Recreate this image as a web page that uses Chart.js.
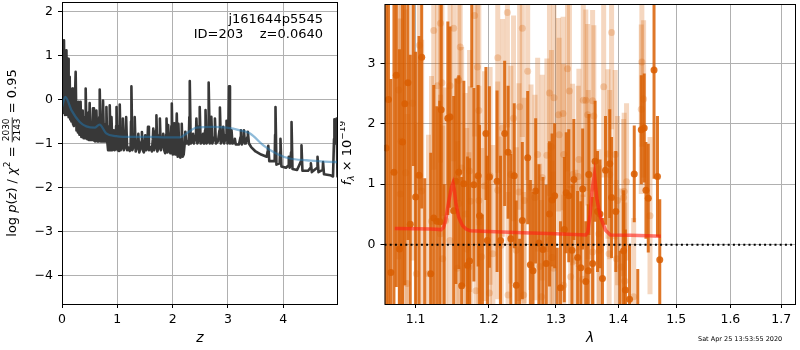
<!DOCTYPE html>
<html>
<head>
<meta charset="utf-8">
<script src="https://cdn.jsdelivr.net/npm/chart.js@4.4.1/dist/chart.umd.min.js"></script>
<style>
  body { margin: 0; background: #fff; }
  #wrap { position: relative; width: 800px; height: 350px; }
  canvas { position: absolute; top: 0; }
</style>
</head>
<body>
<div id="wrap">
  <canvas id="pz" width="345" height="350" style="left:0"></canvas>
  <canvas id="spec" width="460" height="350" style="left:340px"></canvas>
</div>
<script>
// p(z) panel
const objName = 'j161644p5545';
const idLine = 'ID=203    z=0.0640';
const chiNum = '2030', chiDen = '2143', chiRed = '0.95';
const zTicks = [0, 1, 2, 3, 4];
const pzTicks = [-4, -3, -2, -1, 0, 1, 2];

const zGrid = [
  0.000,0.015,0.028,0.036,0.046,0.054,0.062,0.070,0.080,0.092,
  0.100,0.109,0.120,0.130,0.139,0.150,0.160,0.170,0.178,0.187,
  0.198,0.215,0.232,0.247,0.262,0.275,0.288,0.300,0.315,0.325,
  0.336,0.350,0.362,0.374,0.390,0.410,0.420,0.428,0.444,0.458,
  0.471,0.486,0.500,0.515,0.530,0.545,0.561,0.578,0.600,0.622,
  0.640,0.662,0.674,0.682,0.700,0.725,0.735,0.742,0.760,0.785,
  0.796,0.803,0.818,0.833,0.848,0.856,0.863,0.880,0.888,0.895,
  0.912,0.928,0.937,0.952,0.970,0.978,0.986,1.005,1.020,1.030,
  1.037,1.044,1.062,1.080,1.092,1.100,1.118,1.135,1.152,1.160,
  1.178,1.200,1.225,1.240,1.248,1.255,1.272,1.290,1.307,1.315,
  1.332,1.355,1.372,1.380,1.397,1.420,1.437,1.445,1.462,1.480,
  1.497,1.505,1.522,1.540,1.548,1.555,1.572,1.600,1.625,1.642,
  1.650,1.667,1.685,1.700,1.707,1.724,1.745,1.762,1.770,1.787,
  1.822,1.830,1.847,1.865,1.882,1.890,1.905,1.920,1.937,1.960,
  1.977,1.985,2.002,2.022,2.030,2.047,2.060,2.075,2.092,2.105,
  2.122,2.140,2.157,2.165,2.182,2.200,2.222,2.230,2.247,2.270,
  2.290,2.302,2.310,2.327,2.362,2.370,2.387,2.422,2.430,2.447,
  2.470,2.482,2.490,2.507,2.542,2.550,2.567,2.587,2.595,2.612,
  2.640,2.648,2.655,2.672,2.692,2.700,2.717,2.757,2.765,2.782,
  2.820,2.847,2.855,2.872,2.907,2.915,2.932,2.967,2.975,2.992,
  3.012,3.020,3.037,3.058,3.065,3.082,3.118,3.125,3.142,3.200,
  3.228,3.235,3.252,3.282,3.290,3.307,3.320,3.352,3.360,3.380,
  3.420,3.500,3.600,3.700,3.722,3.730,3.748,3.800,3.845,3.853,
  3.860,3.877,3.935,3.943,3.950,3.967,4.050,4.093,4.100,4.117,
  4.142,4.150,4.167,4.250,4.322,4.330,4.347,4.450,4.493,4.500,
  4.517,4.613,4.620,4.637,4.713,4.720,4.737,4.850,4.900,4.918,
  4.925,4.940,4.958,4.965,4.980,4.990
];
const logPz = [
  -0.30,-0.25,0.40,1.35,-0.20,-0.35,0.45,-0.30,1.12,-0.35,
  -0.20,0.93,-0.40,0.00,0.52,-0.45,0.06,-0.50,-0.45,0.25,
  -0.55,-0.60,-0.10,0.63,-0.70,-0.15,-0.75,-0.05,-0.80,-0.80,
  -0.05,-0.85,-0.85,-0.25,-0.88,-0.88,-0.40,0.25,-0.88,-0.90,
  -0.30,-0.92,-0.08,-0.92,-0.60,-0.92,-0.20,-0.93,-0.95,-0.25,
  -0.95,-0.95,-0.40,0.23,-0.95,-0.95,-0.50,-0.02,-0.95,-0.95,
  -0.55,-0.17,-0.95,-1.15,-1.12,-0.60,-0.13,-1.15,-0.80,-0.40,
  -1.15,-1.00,-0.70,-1.15,-1.10,-0.60,-0.17,-1.15,-1.08,-1.17,
  -0.60,-0.11,-1.15,-1.08,-0.80,-0.43,-1.15,-1.09,-0.80,-0.40,
  -1.15,-1.09,-1.17,-1.10,-0.50,0.30,-1.15,-1.08,-0.80,-0.40,
  -1.18,-1.10,-0.95,-0.78,-1.20,-1.10,-0.95,-0.74,-1.15,-1.20,
  -1.00,-0.81,-1.15,-1.05,-0.85,-0.62,-1.15,-1.08,-1.18,-0.90,
  -0.66,-1.15,-1.08,-0.70,-0.36,-1.18,-1.10,-0.80,-0.43,-1.15,
  -0.95,-0.78,-1.15,-1.22,-0.80,-0.43,-1.20,-0.58,-1.15,-1.22,
  -0.60,-0.09,-1.25,-0.90,-0.54,-1.25,-1.15,-0.32,-1.30,-0.55,
  -1.25,-1.32,-0.90,-0.55,-1.30,-1.25,-0.95,-0.73,-1.00,-0.95,
  -1.02,-0.40,0.42,-1.00,-0.95,-0.78,-1.00,-0.80,-0.43,-1.00,
  -0.93,-0.60,-0.17,-1.00,-0.95,-0.78,-1.00,-0.70,-0.24,-1.00,
  -0.95,-0.40,0.39,-1.00,-0.80,-0.39,-1.00,-0.85,-0.43,-1.00,
  -0.95,-0.70,-0.18,-1.00,-0.90,-0.62,-1.00,-0.80,-0.48,-1.00,
  -0.40,0.30,-1.00,-0.90,-0.70,-1.00,-0.98,-0.89,-1.02,-1.02,
  -0.85,-0.70,-1.02,-0.85,-0.70,-1.00,-1.00,-0.85,-0.73,-1.00,
  -1.08,-1.18,-1.25,-1.30,-1.15,-1.05,-1.40,-1.40,-1.40,-0.80,
  -0.17,-1.48,-1.45,-1.20,-0.89,-1.52,-1.55,-1.50,-1.30,-1.55,
  -1.20,-0.51,-1.58,-1.60,-1.40,-1.04,-1.62,-1.62,-1.55,-1.45,
  -1.65,-1.55,-1.30,-1.65,-1.60,-1.42,-1.70,-1.72,-1.75,-0.90,
  -0.45,-1.00,-0.90,-0.43,-1.75,-1.75
];
const zSmooth = [0,0.06,0.17,0.32,0.44,0.59,0.68,0.80,0.98,1.29,1.59,1.89,2.13,2.25,2.43,2.73,2.98,3.22,3.40,3.64,3.88,4.12,4.42,4.91,4.99];
const logPzSmooth = [-0.17,0.06,-0.24,-0.51,-0.61,-0.64,-0.57,-0.77,-0.83,-0.85,-0.85,-0.86,-0.86,-0.77,-0.64,-0.62,-0.64,-0.70,-0.77,-1.04,-1.23,-1.34,-1.38,-1.42,-1.42];

// spectrum panel
const lamTicks = [1.1, 1.2, 1.3, 1.4, 1.5, 1.6, 1.7];
const fluxTicks = [0, 1, 2, 3];
const stamp = 'Sat Apr 25 13:53:55 2020';

const waveDark = [
  1.062,1.065,1.068,1.072,1.075,1.079,1.083,1.086,1.090,1.093,
  1.097,1.100,1.1045,1.108,1.112,1.120,1.124,1.128,1.132,1.134,
  1.138,1.143,1.146,1.151,1.154,1.158,1.162,1.165,1.170,1.173,
  1.176,1.179,1.185,1.187,1.191,1.196,1.198,1.201,1.212,1.217,
  1.223,1.228,1.232,1.237,1.240,1.245,1.249,1.257,1.261,1.265,
  1.269,1.274,1.280,1.285,1.290,1.294,1.298,1.302,1.307,1.313,
  1.316,1.320,1.325,1.328,1.334,1.339,1.342,1.347,1.351,1.352,
  1.358,1.362,1.366,1.370,1.374,1.379,1.386,1.389,1.396,1.403,
  1.409,1.412,1.419,1.427,1.433,1.439,1.444,1.447,1.451,1.461,
  1.467,1.471
];
const fluxDark = [
  1.60,2.40,-0.46,1.20,2.80,-0.07,1.70,2.33,2.68,0.34,
  4.30,0.79,1.15,3.10,-1.10,-0.48,0.44,0.39,0.38,2.23,
  -1.20,2.09,2.11,0.56,1.05,1.20,-0.68,1.01,-0.34,-0.27,
  4.30,0.99,1.14,0.48,-1.10,1.84,0.07,1.12,1.05,0.07,
  1.84,1.53,0.10,1.14,-0.67,-1.10,0.40,1.44,-0.33,-0.43,
  0.89,0.03,-0.08,-0.31,0.51,0.74,0.81,-1.05,-0.71,0.25,
  0.86,0.81,-0.09,1.08,-0.21,-0.38,0.92,-0.61,-0.43,1.16,
  -0.31,1.38,0.55,0.51,-0.56,1.23,1.34,0.78,0.55,-1.10,
  -0.10,-0.75,-0.90,1.17,-1.20,1.90,1.93,0.90,0.77,2.89,
  1.13,-0.25
];
const errDark = [
  4.0,4.0,3.2,3.6,3.5,3.3,3.2,3.0,2.6,2.8,
  3.0,2.4,2.3,2.5,2.2,2.0,2.2,1.9,2.0,1.9,
  2.2,1.6,1.5,1.9,1.7,1.6,1.8,1.7,1.8,1.7,
  1.7,1.6,1.5,1.5,1.6,1.1,1.4,1.5,1.5,1.4,
  1.2,1.1,1.4,1.2,1.4,1.2,1.3,1.1,1.4,1.3,
  1.2,1.3,1.2,1.3,1.2,1.1,1.2,1.0,1.1,1.2,
  1.0,1.1,1.1,1.0,1.1,1.1,1.0,1.0,1.1,1.0,
  1.1,1.0,1.0,0.9,1.0,0.9,0.9,1.0,1.0,1.0,
  1.0,1.0,0.9,0.8,0.8,0.9,0.9,0.8,0.9,1.8,
  1.0,1.0
];

const waveLight = [
  1.078,1.080,1.081,1.087,1.089,1.096,1.101,1.105,1.108,1.117,
  1.121,1.124,1.129,1.133,1.133,1.135,1.136,1.140,1.146,1.146,
  1.151,1.156,1.158,1.158,1.160,1.162,1.167,1.169,1.172,1.173,
  1.174,1.180,1.182,1.184,1.186,1.186,1.190,1.194,1.201,1.202,
  1.206,1.213,1.213,1.218,1.220,1.227,1.228,1.232,1.236,1.240,
  1.244,1.245,1.249,1.251,1.252,1.257,1.262,1.268,1.272,1.275,
  1.278,1.279,1.286,1.290,1.290,1.293,1.294,1.296,1.297,1.304,
  1.305,1.311,1.312,1.312,1.318,1.321,1.323,1.326,1.331,1.335,
  1.336,1.342,1.343,1.347,1.350,1.351,1.358,1.358,1.360,1.368,
  1.369,1.376,1.383,1.385,1.386,1.389,1.395,1.397,1.399,1.405,
  1.409,1.410,1.411,1.414,1.426,1.439,1.440,1.443,1.454
];
const fluxLight = [
  2.56,0.84,1.71,1.19,-0.64,2.34,-0.48,3.30,0.89,-0.48,
  0.39,3.54,2.63,3.66,0.18,2.68,-0.23,0.40,2.63,0.07,
  3.58,-0.39,2.72,0.68,3.27,1.27,0.51,-0.07,-0.37,1.22,
  0.72,3.79,-0.76,2.94,2.22,0.73,-0.20,0.97,-0.80,1.14,
  -0.15,3.09,0.90,-0.01,1.93,3.84,-0.83,1.16,2.09,-0.09,
  0.87,2.28,3.58,-0.83,0.73,2.87,0.95,0.78,1.49,-0.36,
  -0.86,1.11,1.48,0.08,2.51,1.62,-0.21,-0.39,2.43,2.15,
  1.82,2.17,1.49,-0.67,2.91,2.54,-0.53,1.16,-0.26,1.13,
  1.41,-0.57,2.39,2.39,2.15,1.16,2.38,-0.12,2.13,0.18,
  -0.09,2.61,1.50,-0.15,1.16,3.51,1.49,-0.23,0.73,-0.37,
  0.78,0.88,-0.60,1.04,-0.86,2.24,3.02,2.41,0.48
];
const errLight = [
  2.8,2.9,2.8,2.7,2.8,2.6,2.5,2.4,2.5,2.3,
  2.4,2.3,2.2,2.3,2.3,2.2,2.2,2.2,2.1,2.1,
  2.2,2.1,2.0,2.1,2.1,2.0,2.0,2.0,1.9,2.0,
  1.9,2.0,1.9,1.9,1.9,1.9,1.8,1.9,1.8,1.8,
  1.8,1.9,1.8,1.8,1.8,1.9,1.7,1.8,1.7,1.7,
  1.8,1.7,1.8,1.7,1.7,1.8,1.7,1.7,1.6,1.7,
  1.6,1.7,1.6,1.6,1.7,1.6,1.6,1.6,1.7,1.6,
  1.6,1.6,1.5,1.5,1.7,1.6,1.5,1.5,1.5,1.5,
  1.5,1.4,1.6,1.5,1.5,1.4,1.5,1.4,1.5,1.4,
  1.4,1.5,1.4,1.4,1.4,1.6,1.4,1.3,1.4,1.3,
  1.3,1.3,1.3,1.3,1.3,1.4,1.4,1.3,1.3
];

const waveModel = [1.073,1.100,1.120,1.134,1.137,1.140,1.144,1.148,1.150,1.152,1.154,1.158,1.163,1.168,1.174,1.200,1.250,1.300,1.347,1.350,1.354,1.357,1.361,1.365,1.371,1.379,1.387,1.420,1.450,1.473];
const fluxModel = [0.27,0.265,0.26,0.25,0.28,0.40,0.70,0.95,1.02,0.90,0.68,0.45,0.32,0.26,0.23,0.22,0.20,0.18,0.16,0.20,0.50,0.89,1.16,0.75,0.45,0.24,0.16,0.155,0.15,0.14];
const zeroLevel = 0;

const FONT = 'DejaVu Sans';
const tickFont = { family: FONT, size: 12.5 };

function minus(v) {
  return v < 0 ? '\u2212' + Math.abs(v) : String(v);
}

function fixAxis(w, h) {
  return s => {
    if (w != null) s.width = w;
    if (h != null) s.height = h;
    s.paddingTop = 0; s.paddingBottom = 0; s.paddingLeft = 0; s.paddingRight = 0;
  };
}

// draws text runs one after another, rotated by -90 deg
function drawRuns(ctx, cx, cy, runs) {
  ctx.save();
  ctx.translate(cx, cy);
  ctx.rotate(-Math.PI / 2);
  ctx.textBaseline = 'middle';
  ctx.textAlign = 'left';
  let total = 0;
  runs.forEach(r => {
    ctx.font = r.font;
    if (r.frac) {
      r.w = Math.max(ctx.measureText(r.num).width, ctx.measureText(r.den).width) + 2;
    } else {
      r.w = ctx.measureText(r.text).width;
    }
    total += r.w;
  });
  let x = -total / 2;
  runs.forEach(r => {
    ctx.font = r.font;
    if (r.frac) {
      ctx.textAlign = 'center';
      ctx.fillText(r.num, x + r.w / 2, -6);
      ctx.fillText(r.den, x + r.w / 2, 5);
      ctx.textAlign = 'left';
      ctx.fillRect(x, -1.2, r.w, 0.8);
    } else {
      ctx.fillText(r.text, x, r.dy || 0);
    }
    x += r.w;
  });
  ctx.restore();
}

const pzDecor = {
  id: 'pzDecor',
  afterDraw(chart) {
    const { ctx, chartArea: a } = chart;
    ctx.save();
    ctx.strokeStyle = '#000';
    ctx.lineWidth = 1;
    ctx.strokeRect(a.left + 0.5, a.top + 0.5, a.right - a.left - 1, a.bottom - a.top);
    ctx.fillStyle = '#000';
    ctx.font = '13px ' + FONT;
    ctx.textAlign = 'right';
    ctx.textBaseline = 'middle';
    ctx.fillText(objName, 323, 20);
    ctx.fillText(idLine, 323, 35);
    const n = '13px ' + FONT, it = 'italic 13px ' + FONT;
    drawRuns(ctx, 13, 153, [
      { text: 'log ', font: n },
      { text: 'p', font: it },
      { text: '(', font: n },
      { text: 'z', font: it },
      { text: ') / ', font: n },
      { text: '\u03c7', font: it },
      { text: '2', font: '9px ' + FONT, dy: -5 },
      { text: ' = ', font: n },
      { frac: true, num: chiNum, den: chiDen, font: '9px ' + FONT },
      { text: ' = ' + chiRed, font: n }
    ]);
    ctx.restore();
  }
};

new Chart(document.getElementById('pz'), {
  type: 'scatter',
  data: {
    datasets: [
      {
        data: zGrid.map((z, i) => ({ x: z, y: logPz[i] })),
        showLine: true, borderColor: '#383838', borderWidth: 2.6,
        borderJoinStyle: 'round', pointRadius: 0, order: 2
      },
      {
        data: zSmooth.map((z, i) => ({ x: z, y: logPzSmooth[i] })),
        showLine: true, borderColor: 'rgba(31,119,180,0.5)', borderWidth: 2.3,
        pointRadius: 0, cubicInterpolationMode: 'monotone', order: 1
      }
    ]
  },
  options: {
    responsive: false, animation: false,
    layout: { padding: { top: 2, right: 7, left: 0, bottom: 0 } },
    plugins: { legend: { display: false }, tooltip: { enabled: false } },
    scales: {
      x: {
        type: 'linear', min: 0, max: 4.99,
        afterBuildTicks: s => { s.ticks = zTicks.map(v => ({ value: v })); },
        afterFit: fixAxis(null, 46),
        ticks: { font: tickFont, color: '#000', padding: 4, maxRotation: 0, callback: v => minus(v) },
        grid: { color: '#b0b0b0', tickColor: '#000', tickLength: 4 },
        border: { display: false },
        title: { display: true, text: 'z', color: '#000', font: { family: FONT, size: 14, style: 'italic' }, padding: { top: 0, bottom: 3 } }
      },
      y: {
        min: -4.65, max: 2.22,
        afterBuildTicks: s => { s.ticks = pzTicks.map(v => ({ value: v })); },
        afterFit: fixAxis(62, null),
        ticks: { font: tickFont, color: '#000', padding: 5, callback: v => minus(v) },
        grid: { color: '#b0b0b0', tickColor: '#000', tickLength: 4 },
        border: { display: false }
      }
    }
  },
  plugins: [pzDecor]
});

function drawErrs(ctx, xs, ys, wave, flux, err, color, width) {
  ctx.strokeStyle = color;
  ctx.lineWidth = width;
  for (let i = 0; i < wave.length; i++) {
    const px = xs.getPixelForValue(wave[i]);
    ctx.beginPath();
    ctx.moveTo(px, ys.getPixelForValue(flux[i] - err[i]));
    ctx.lineTo(px, ys.getPixelForValue(flux[i] + err[i]));
    ctx.stroke();
  }
}

const specDecor = {
  id: 'specDecor',
  beforeDatasetsDraw(chart) {
    const { ctx, chartArea: a, scales } = chart;
    ctx.save();
    ctx.beginPath();
    ctx.rect(a.left, a.top, a.right - a.left, a.bottom - a.top);
    ctx.clip();
    drawErrs(ctx, scales.x, scales.y, waveDark, fluxDark, errDark, 'rgba(217,95,2,0.85)', 3);
    drawErrs(ctx, scales.x, scales.y, waveLight, fluxLight, errLight, 'rgba(217,95,2,0.25)', 5);
    ctx.restore();
  },
  afterDraw(chart) {
    const { ctx, chartArea: a } = chart;
    ctx.save();
    ctx.strokeStyle = '#000';
    ctx.lineWidth = 1;
    ctx.strokeRect(a.left + 0.5, a.top + 0.5, a.right - a.left - 1, a.bottom - a.top);
    ctx.fillStyle = '#000';
    const n = '13px ' + FONT, it = 'italic 13px ' + FONT;
    drawRuns(ctx, 8, 153, [
      { text: 'f', font: it },
      { text: '\u03bb', font: 'italic 9px ' + FONT, dy: 4 },
      { text: ' \u00d7 10', font: n },
      { text: '\u221219', font: '9px ' + FONT, dy: -5 }
    ]);
    ctx.font = '6.5px ' + FONT;
    ctx.textAlign = 'left';
    ctx.textBaseline = 'middle';
    ctx.fillText(stamp, 358, 339);
    ctx.restore();
  }
};

new Chart(document.getElementById('spec'), {
  type: 'scatter',
  data: {
    datasets: [
      {
        data: [{ x: 1.06, y: zeroLevel }, { x: 1.73, y: zeroLevel }],
        showLine: true, borderColor: '#000', borderWidth: 2, borderDash: [2, 3.2],
        pointRadius: 0, order: 0
      },
      {
        data: waveModel.map((w, i) => ({ x: w, y: fluxModel[i] })),
        showLine: true, borderColor: 'rgba(255,30,20,0.6)', borderWidth: 3.5,
        pointRadius: 0, order: 1
      },
      {
        data: waveDark.map((w, i) => ({ x: w, y: fluxDark[i] })),
        backgroundColor: 'rgba(217,95,2,0.88)', borderWidth: 0, pointRadius: 3.5, order: 2
      },
      {
        data: waveLight.map((w, i) => ({ x: w, y: fluxLight[i] })),
        backgroundColor: 'rgba(217,95,2,0.25)', borderWidth: 0, pointRadius: 3.5, order: 3
      }
    ]
  },
  options: {
    responsive: false, animation: false,
    layout: { padding: { top: 2, right: 1, left: 0, bottom: 0 } },
    plugins: { legend: { display: false }, tooltip: { enabled: false } },
    scales: {
      x: {
        type: 'logarithmic', min: 1.06, max: 1.73,
        afterBuildTicks: s => { s.ticks = lamTicks.map(v => ({ value: v })); },
        afterFit: fixAxis(null, 46),
        ticks: { font: tickFont, color: '#000', padding: 4, maxRotation: 0, autoSkip: false, callback: v => (+v).toFixed(1) },
        grid: { color: '#b0b0b0', tickColor: '#000', tickLength: 4 },
        border: { display: false },
        title: { display: true, text: '\u03bb', color: '#000', font: { family: FONT, size: 14, style: 'italic' }, padding: { top: 0, bottom: 3 } }
      },
      y: {
        min: -0.98, max: 3.98,
        afterBuildTicks: s => { s.ticks = fluxTicks.map(v => ({ value: v })); },
        afterFit: fixAxis(44.5, null),
        ticks: { font: tickFont, color: '#000', padding: 5, callback: v => minus(v) },
        grid: { color: '#b0b0b0', tickColor: '#000', tickLength: 4 },
        border: { display: false }
      }
    }
  },
  plugins: [specDecor]
});
</script>
</body>
</html>
